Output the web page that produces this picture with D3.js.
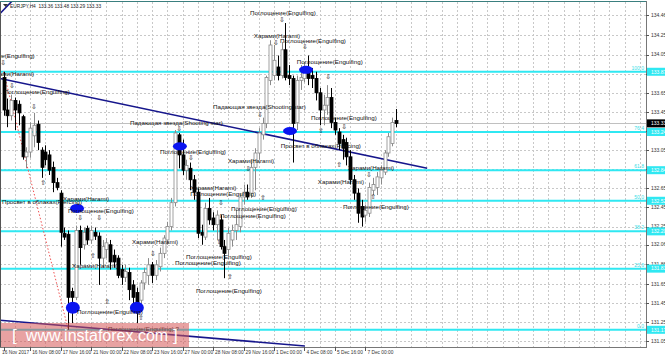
<!DOCTYPE html>
<html>
<head>
<meta charset="utf-8">
<script src="https://cdn.jsdelivr.net/npm/d3@7"></script>
<style>
  body { margin: 0; background: #fff; }
  svg { display: block; }
</style>
</head>
<body>
<svg id="chart"></svg>
<script>
// EURJPY H4 candles
const opens = [133.81,133.47,133.41,133.57,133.53,133.40,132.98,133.03,133.20,133.32,
  133.05,133.03,133.00,132.87,132.71,132.60,132.18,132.17,131.57,131.51,
  132.21,132.06,132.23,132.11,132.19,132.15,131.92,132.01,132.06,131.95,
  131.92,131.80,131.72,131.77,131.64,131.56,131.48,131.66,131.74,131.85,
  131.74,131.83,131.97,132.11,132.25,132.50,133.21,133.00,132.84,132.86,
  132.74,132.61,132.19,132.14,132.44,132.34,132.27,132.32,132.04,132.01,
  132.11,132.21,132.25,132.56,132.61,132.60,132.87,133.02,133.21,133.33,
  133.78,133.83,133.92,133.83,134.10,133.83,133.80,133.34,133.78,133.80,
  133.89,133.83,133.80,133.65,133.47,133.52,133.60,133.34,133.24,133.16,
  133.13,132.98,132.74,132.60,132.46,132.37,132.39,132.63,132.66,132.76,
  132.82,133.02,133.12,133.36];
const closes = [133.47,133.41,133.57,133.47,133.44,132.98,133.03,133.28,133.31,133.13,
  132.87,132.95,132.84,132.71,132.66,132.19,132.14,131.51,131.51,132.21,
  132.03,132.19,132.11,132.21,132.15,131.92,132.04,132.08,131.88,131.88,
  131.74,131.72,131.78,131.59,131.51,131.45,131.66,131.77,131.85,131.74,
  131.85,131.97,132.13,132.25,132.50,133.23,133.00,132.84,132.89,132.74,
  132.61,132.18,132.16,132.44,132.32,132.27,132.37,132.04,131.97,132.18,
  132.21,132.27,132.56,132.61,132.56,132.87,133.02,133.23,133.33,133.81,
  134.15,133.99,133.83,134.10,133.81,133.80,133.33,133.78,133.81,133.89,
  133.80,133.80,133.65,133.47,133.52,133.60,133.34,133.26,133.12,133.07,
  132.98,132.74,132.60,132.39,132.35,132.42,132.66,132.69,132.77,132.84,
  133.02,133.19,133.34,133.33];
const highs = [133.87,133.59,133.63,133.60,133.57,133.42,133.08,133.34,133.44,133.36,
  133.08,133.10,133.05,132.93,132.76,132.63,132.24,132.21,131.61,132.26,
  132.26,132.24,132.26,132.26,132.24,132.19,132.11,132.13,132.11,132.01,
  131.95,131.85,131.85,131.82,131.69,131.61,131.69,131.82,131.92,131.88,
  131.90,132.03,132.16,132.30,132.55,133.26,133.23,133.16,132.95,132.92,
  132.79,132.65,132.27,132.50,132.55,132.40,132.42,132.37,132.11,132.24,
  132.27,132.42,132.60,132.69,132.69,132.95,133.07,133.28,133.39,133.83,
  134.20,134.15,134.04,134.18,134.38,133.94,133.83,133.83,133.94,133.97,
  134.04,133.91,133.87,133.70,133.63,133.73,133.70,133.39,133.28,133.21,
  133.18,133.05,132.79,132.65,132.53,132.48,132.71,132.76,132.82,132.89,
  133.05,133.23,133.39,133.48];
const lows = [133.41,133.29,133.36,133.26,133.31,132.95,132.86,132.97,133.08,133.05,
  132.76,132.89,132.79,132.61,132.63,132.04,132.11,131.17,131.24,131.48,
  131.85,132.01,132.06,132.07,132.11,131.64,131.82,131.92,131.80,131.82,
  131.71,131.64,131.67,131.48,131.43,131.24,131.36,131.59,131.64,131.66,
  131.69,131.78,131.92,132.06,132.21,132.46,132.86,132.79,132.74,132.63,
  132.53,132.13,132.06,132.11,132.27,132.21,132.11,132.01,131.71,131.94,
  132.04,132.11,132.19,132.48,132.53,132.55,132.63,132.95,133.16,133.28,
  133.73,133.78,133.78,133.80,133.78,133.73,132.92,133.26,133.68,133.76,
  133.73,133.70,133.57,133.31,133.31,133.42,133.28,133.21,133.05,132.95,
  132.89,132.69,132.53,132.29,132.25,132.30,132.35,132.58,132.58,132.69,
  132.79,132.98,133.09,133.29];

const title = "EURJPY,H4  133.36 133.48 133.29 133.33";
const lastPrice = 133.33;

const priceTicks = ["134.46","134.25","134.05","133.85","133.65","133.45","133.25","133.05",
  "132.85","132.65","132.45","132.25","132.06","131.86","131.65","131.45","131.25","131.05"];

const dateLabels = ["16 Nov 2017","16 Nov 08:00","17 Nov 16:00","21 Nov 00:00","22 Nov 08:00",
  "23 Nov 16:00","27 Nov 00:00","28 Nov 08:00","29 Nov 16:00","1 Dec 00:00","4 Dec 08:00",
  "5 Dec 16:00","7 Dec 00:00"];
const dateBars = [0, 7, 15, 23, 31, 39, 47, 55, 63, 71, 79, 87, 95];

// fibonacci retracement, drawn from the high of bar 0 to the low of bar 17
const fibNames = ["0.0","23.6","38.2","50.0","61.8","76.4","100.0"];
const fibPrices = [131.17, 131.81, 132.20, 132.52, 132.84, 133.24, 133.87];
const fibAnchor = [[0, 133.87], [17, 131.17]];

// trend lines: [[bar, price], [bar, price]]
const trendLines = [
  [[-0.9, 133.80], [111.2, 132.86]],
  [[-0.9, 134.48], [2.5, 134.62]],
  [[-0.9, 131.27], [79.1, 131.00]]
];

// pattern marks (ellipses) at [bar, price]
const marks = [[19.3, 132.44], [46.3, 133.09], [75.2, 133.25], [79.4, 133.89], [18.2, 131.40], [35.0, 131.40]];

// candle pattern labels: [bar, price, text]
const patterns = [
  [64.7, 134.49, "Поглощение(Engulfing)"], [73.1, 134.42, "⇩"],
  [65.7, 134.25, "Харами(Harami)"], [71.5, 134.18, "⇩"],
  [72.6, 134.19, "Поглощение(Engulfing)"], [79.1, 134.13, "⇩"],
  [77.0, 133.97, "Поглощение(Engulfing)"], [85.2, 133.82, "⇩"],
  [-9.1, 134.04, "Поглощение(Engulfing)"], [-0.1, 133.97, "⇩"],
  [-4.1, 133.85, "Харами(Harami)"], [2.2, 133.73, "⇩"],
  [0.1, 133.66, "Поглощение(Engulfing)"], [8.0, 133.51, "⇩"],
  [55.0, 133.50, "Падающая звезда(Shooting star)"], [67.3, 133.42, "⇩"],
  [33.2, 133.34, "Падающая звезда(Shooting star)"], [46.1, 133.28, "⇩"],
  [41.1, 133.03, "Поглощение(Engulfing)"], [49.2, 132.97, "⇩"],
  [58.9, 132.94, "Харами(Harami)"], [64.2, 132.86, "⇩"],
  [72.8, 133.09, "Просвет в облаках(Piercing)"],
  [80.7, 133.39, "Поглощение(Engulfing)"], [89.4, 133.30, "⇩"], [83.3, 133.25, "⇧"],
  [88.1, 132.90, "⇧"], [90.4, 132.86, "Харами(Harami)"], [95.9, 132.79, "⇩"],
  [82.5, 132.72, "Харами(Harami)"], [97.0, 132.56, "⇧"],
  [89.1, 132.46, "Поглощение(Engulfing)"], [68.1, 132.55, "⇧"],
  [-0.4, 132.51, "Просвет в облаках(Piercing)"],
  [15.6, 132.54, "Харами(Harami)"], [16.9, 132.41, "Поглощение(Engulfing)"],
  [20.1, 132.34, "⇩"], [25.1, 132.34, "⇩"],
  [49.0, 132.66, "Харами(Harami)"], [49.0, 132.59, "Поглощение(Engulfing)"],
  [57.1, 132.50, "⇩"], [59.7, 132.44, "Поглощение(Engulfing)"],
  [56.8, 132.36, "Поглощение(Engulfing)"],
  [33.7, 132.09, "Харами(Harami)"], [39.2, 131.97, "⇩"], [56.6, 132.09, "⇧"],
  [47.9, 131.93, "Поглощение(Engulfing)"], [45.0, 131.87, "Поглощение(Engulfing)"],
  [59.4, 131.73, "⇧"], [18.0, 131.84, "Харами(Harami)"], [23.5, 131.95, "⇧"],
  [27.2, 131.47, "⇧"], [36.1, 131.30, "⇧"],
  [19.3, 131.36, "Поглощение(Engulfing)"], [50.5, 131.58, "Поглощение(Engulfing)"],
  [10.4, 132.71, "⇧"], [27.4, 131.18, "Поглощение(Engulfing) ?"]
];

const width = 665, height = 357;
const plot = { left: 0, right: 646, top: 2, bottom: 347 };
const font = "'Liberation Sans', Arial, 'DejaVu Sans', sans-serif";

const svg = d3.select("#chart").attr("width", width).attr("height", height)
  .style("font-family", font);

const x = d3.scaleLinear().domain([0, 1]).range([3.5, 3.5 + 3.81]);
const y = d3.scaleLinear().domain([130.99, 134.60]).range([plot.bottom, plot.top]);

svg.append("defs").append("clipPath").attr("id", "plotClip")
  .append("rect").attr("x", plot.left).attr("y", plot.top)
  .attr("width", plot.right - plot.left).attr("height", plot.bottom - plot.top);

// grid
const grid = svg.append("g").attr("stroke", "#c8c8c8").attr("stroke-dasharray", "2,2");
grid.selectAll("line.h").data(priceTicks).join("line")
  .attr("x1", plot.left).attr("x2", plot.right)
  .attr("y1", d => Math.round(y(+d)) + 0.5).attr("y2", d => Math.round(y(+d)) + 0.5);
grid.selectAll("line.v").data(d3.range(-1, 170, 4).filter(i => x(i) > 0 && x(i) < plot.right)).join("line")
  .attr("x1", d => Math.round(x(d)) + 0.5).attr("x2", d => Math.round(x(d)) + 0.5)
  .attr("y1", plot.top).attr("y2", plot.bottom);

const g = svg.append("g").attr("clip-path", "url(#plotClip)");

// bid line
g.append("line").attr("x1", plot.left).attr("x2", plot.right)
  .attr("y1", Math.round(y(lastPrice)) + 0.5).attr("y2", Math.round(y(lastPrice)) + 0.5)
  .attr("stroke", "#c0c0c0");

// fibonacci levels
g.selectAll("line.fib").data(fibPrices).join("line")
  .attr("x1", plot.left).attr("x2", plot.right)
  .attr("y1", d => y(d)).attr("y2", d => y(d))
  .attr("stroke", "#2fe8f2").attr("stroke-width", 2);
g.append("line")
  .attr("x1", x(fibAnchor[0][0])).attr("y1", y(fibAnchor[0][1]))
  .attr("x2", x(fibAnchor[1][0])).attr("y2", y(fibAnchor[1][1]))
  .attr("stroke", "#f05050").attr("stroke-dasharray", "1.5,2");
g.selectAll("text.fib").data(fibNames).join("text")
  .attr("x", plot.right - 2).attr("y", (d, i) => y(fibPrices[i]) - 2)
  .attr("text-anchor", "end").attr("font-size", 5).attr("fill", "#38dde6").text(d => d);

// trend lines
g.selectAll("line.trend").data(trendLines).join("line")
  .attr("x1", d => x(d[0][0])).attr("y1", d => y(d[0][1]))
  .attr("x2", d => x(d[1][0])).attr("y2", d => y(d[1][1]))
  .attr("stroke", "#16168c").attr("stroke-width", 1.6);

// candles
const bars = d3.range(opens.length);
g.selectAll("line.wick").data(bars).join("line")
  .attr("x1", i => Math.round(x(i)) + 0.5).attr("x2", i => Math.round(x(i)) + 0.5)
  .attr("y1", i => y(highs[i])).attr("y2", i => y(lows[i]))
  .attr("stroke", i => closes[i] >= opens[i] ? "#8a8a8a" : "#000");
g.selectAll("rect.body").data(bars).join("rect")
  .attr("x", i => Math.round(x(i)) - 1)
  .attr("width", 3)
  .attr("y", i => y(Math.max(opens[i], closes[i])))
  .attr("height", i => Math.max(1, Math.abs(y(opens[i]) - y(closes[i]))))
  .attr("fill", i => closes[i] >= opens[i] ? "#fff" : "#000")
  .attr("stroke", i => closes[i] >= opens[i] ? "#8a8a8a" : "#000")
  .attr("stroke-width", 0.8);

// pattern marks
const markRy = [4.5, 4, 4, 4, 6, 6];
g.selectAll("ellipse").data(marks).join("ellipse")
  .attr("cx", d => x(d[0])).attr("cy", d => y(d[1]))
  .attr("rx", 7).attr("ry", (d, i) => markRy[i]).attr("fill", "#0a14f0");

// pattern labels
g.selectAll("text.pat").data(patterns).join("text")
  .attr("x", d => x(d[0])).attr("y", d => y(d[1]))
  .attr("dy", "0.35em")
  .attr("text-anchor", d => d[2].length === 1 ? "middle" : "start")
  .attr("font-size", d => d[2].length === 1 ? 7 : 6.2)
  .attr("fill", "#111").text(d => d[2]);

// watermark
const wm = svg.append("g");
wm.append("rect").attr("x", 0).attr("y", 323).attr("width", 189).attr("height", 24)
  .attr("fill", "rgb(214,86,86)").attr("fill-opacity", 0.55);
wm.append("text").attr("x", 12).attr("y", 341).attr("font-size", 17).attr("fill", "#fff").text("[");
wm.append("text").attr("x", 97).attr("y", 341).attr("text-anchor", "middle")
  .attr("font-size", 16).attr("fill", "#fff").text("www.instaforex.com");
wm.append("text").attr("x", 173).attr("y", 341).attr("font-size", 17).attr("fill", "#fff").text("]");

// frame and axes
svg.append("line").attr("x1", 0).attr("x2", plot.right).attr("y1", 1.5).attr("y2", 1.5)
  .attr("stroke", "#3a7f7f");
svg.append("line").attr("x1", 0.5).attr("x2", 0.5).attr("y1", plot.top).attr("y2", plot.bottom)
  .attr("stroke", "#555");
svg.append("line").attr("x1", plot.right + 0.5).attr("x2", plot.right + 0.5)
  .attr("y1", 1).attr("y2", plot.bottom).attr("stroke", "#777");
svg.append("line").attr("x1", 0).attr("x2", plot.right + 1)
  .attr("y1", plot.bottom + 0.5).attr("y2", plot.bottom + 0.5).attr("stroke", "#777");

// price axis (labels sitting under a level box are hidden, as in the terminal)
const coveredBy = (p) => fibPrices.concat([lastPrice]).some(f => Math.abs(y(f) - y(p)) < 4.5);
const yAxis = svg.append("g");
yAxis.selectAll("line").data(priceTicks).join("line")
  .attr("x1", plot.right).attr("x2", plot.right + 3)
  .attr("y1", d => Math.round(y(+d)) + 0.5).attr("y2", d => Math.round(y(+d)) + 0.5)
  .attr("stroke", "#555");
yAxis.selectAll("text").data(priceTicks.filter(d => !coveredBy(+d))).join("text")
  .attr("x", plot.right + 5).attr("y", d => y(+d)).attr("dy", "0.35em")
  .attr("font-size", 5).attr("fill", "#333").text(d => d);

// level price boxes on the axis
const boxes = svg.append("g");
boxes.selectAll("rect").data(fibPrices).join("rect")
  .attr("x", plot.right + 1).attr("y", d => y(d) - 4).attr("width", 19).attr("height", 8)
  .attr("fill", "#2fe8f2");
boxes.selectAll("text").data(fibPrices).join("text")
  .attr("x", plot.right + 5).attr("y", d => y(d)).attr("dy", "0.35em")
  .attr("font-size", 5).attr("fill", "#fff").text(d => d.toFixed(2));
boxes.append("rect").attr("x", plot.right + 1).attr("y", y(lastPrice) - 4)
  .attr("width", 19).attr("height", 8).attr("fill", "#000");
boxes.append("text").attr("x", plot.right + 5).attr("y", y(lastPrice)).attr("dy", "0.35em")
  .attr("font-size", 5).attr("fill", "#fff").text(lastPrice.toFixed(2));

// time axis
const xAxis = svg.append("g");
xAxis.selectAll("line").data(dateBars).join("line")
  .attr("x1", d => Math.round(x(d)) + 0.5).attr("x2", d => Math.round(x(d)) + 0.5)
  .attr("y1", plot.bottom).attr("y2", plot.bottom + 4).attr("stroke", "#555");
xAxis.selectAll("text").data(dateLabels).join("text")
  .attr("x", (d, i) => i === 0 ? 2 : x(dateBars[i]) + 2).attr("y", 354)
  .attr("font-size", 4.8).attr("fill", "#333").text(d => d);

// title
svg.append("path").attr("d", "M3,4 L8,4 L5.5,7 Z").attr("fill", "#333");
svg.append("text").attr("x", 10).attr("y", 7.5).attr("font-size", 4.8).attr("fill", "#222")
  .style("white-space", "pre").text(title);
</script>
</body>
</html>
